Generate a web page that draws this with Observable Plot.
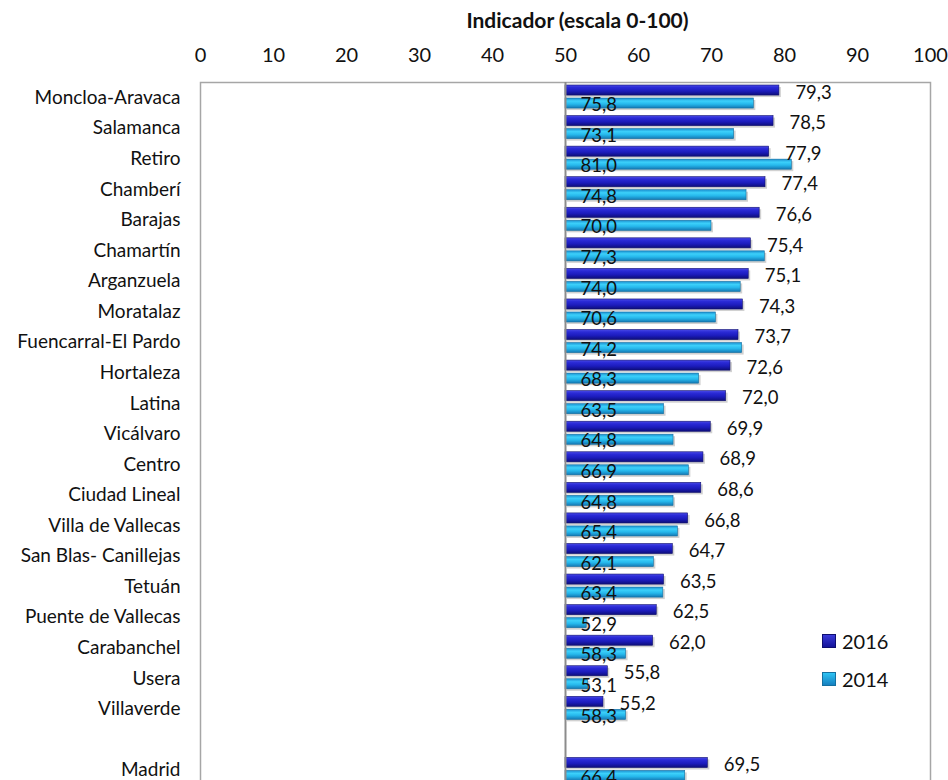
<!DOCTYPE html>
<html>
<head>
<meta charset="utf-8">
<script src="https://cdn.jsdelivr.net/npm/d3@7"></script>
<script src="https://cdn.jsdelivr.net/npm/@observablehq/plot@0.6"></script>
<style>
  html, body { margin: 0; padding: 0; background: #fff; }
  #wrap { position: relative; width: 948px; height: 780px; overflow: hidden; font-family: Lato, "Open Sans", sans-serif; }
  #legend { position: absolute; left: 822px; top: 622px; font-size: 20px; color: #111; }
  #legend .row { display: flex; align-items: center; height: 38px; }
  #legend .sw { width: 14px; height: 14px; margin-right: 6px; box-sizing: border-box; }
</style>
</head>
<body>
<div id="wrap"></div>
<script>
const districts = ["Moncloa-Aravaca","Salamanca","Retiro","Chamberí","Barajas","Chamartín","Arganzuela","Moratalaz","Fuencarral-El Pardo","Hortaleza","Latina","Vicálvaro","Centro","Ciudad Lineal","Villa de Vallecas","San Blas- Canillejas","Tetuán","Puente de Vallecas","Carabanchel","Usera","Villaverde"," ","Madrid"];
const values2016 = [79.3,78.5,77.9,77.4,76.6,75.4,75.1,74.3,73.7,72.6,72.0,69.9,68.9,68.6,66.8,64.7,63.5,62.5,62.0,55.8,55.2,null,69.5];
const values2014 = [75.8,73.1,81.0,74.8,70.0,77.3,74.0,70.6,74.2,68.3,63.5,64.8,66.9,64.8,65.4,62.1,63.4,52.9,58.3,53.1,58.3,null,66.4];
const seriesNames = ["2016","2014"];
const xTicks = [0,10,20,30,40,50,60,70,80,90,100];
const baseline = 50;
const titleText = "Indicador (escala 0-100)";

const rows = districts.map((d, i) => ({name: d, v16: values2016[i], v14: values2014[i], base: baseline}))
  .filter(d => d.v16 != null);
const fmt = v => v.toFixed(1).replace(".", ",");

const chart = Plot.plot({
  width: 948,
  height: 785,
  marginTop: 82,
  marginLeft: 200,
  marginRight: 18,
  marginBottom: 0,
  style: {fontFamily: "Lato, 'Open Sans', sans-serif", color: "#111", background: "white"},
  x: {domain: [0, 100]},
  y: {domain: districts, paddingInner: 0, paddingOuter: 0, round: false},
  marks: [
    Plot.frame({stroke: "#a6a6a6", strokeWidth: 1.5}),
    // shadows
    Plot.barX(rows, {y: "name", x1: "base", x2: "v16", insetTop: 3, insetBottom: 17.5, dx: 2, dy: 2, fill: "#000", fillOpacity: 0.18}),
    Plot.barX(rows, {y: "name", x1: "base", x2: "v14", insetTop: 16, insetBottom: 4.5, dx: 2, dy: 2, fill: "#000", fillOpacity: 0.18}),
    Plot.barX(rows, {y: "name", x1: "base", x2: "v16", insetTop: 3, insetBottom: 17.5, fill: "url(#g2016)", stroke: "#10106e", strokeWidth: 0.6}),
    Plot.barX(rows, {y: "name", x1: "base", x2: "v14", insetTop: 16, insetBottom: 4.5, fill: "url(#g2014)", stroke: "#1470a0", strokeWidth: 0.6}),
    Plot.ruleX([baseline], {stroke: "#8c8c8c", strokeWidth: 2}),
    Plot.text(rows, {y: "name", x: "v16", text: d => fmt(d.v16), textAnchor: "start", dx: 16, dy: -5, fontSize: 18.5, fill: "#111"}),
    Plot.text(rows, {y: "name", x: "base", text: d => fmt(d.v14), textAnchor: "start", dx: 15, dy: 7.5, fontSize: 18.5, fill: "#111"}),
    Plot.axisX({anchor: "top", ticks: xTicks, tickSize: 0, tickPadding: 21, fontSize: 20, label: null, tickFormat: d => String(d)}),
    Plot.axisY({tickSize: 0, tickPadding: 20, fontSize: 19, label: null}),
    Plot.text([titleText], {frameAnchor: "top", lineAnchor: "middle", dy: -61, dx: 12, text: d => d, fontSize: 21, fontWeight: "bold", fill: "#111"})
  ]
});

// gradients for the bevelled bar look
const defs = d3.select(chart).insert("defs", ":first-child");
function grad(id, stops) {
  const g = defs.append("linearGradient").attr("id", id).attr("x1", 0).attr("y1", 0).attr("x2", 0).attr("y2", 1);
  stops.forEach(([o, c]) => g.append("stop").attr("offset", o).attr("stop-color", c));
}
grad("g2016", [[0, "#4a4ae6"], [0.25, "#2a2ad6"], [0.6, "#1c1cbc"], [1, "#0e0e7a"]]);
grad("g2014", [[0, "#1b8fd0"], [0.3, "#3cd0fa"], [0.6, "#26b8ec"], [1, "#1478b4"]]);

const wrap = document.getElementById("wrap");
wrap.appendChild(chart);

const legend = document.createElement("div");
legend.id = "legend";
const legendColors = {"2016": "linear-gradient(#3a3ad8,#14149a)", "2014": "linear-gradient(#2ec4f4,#1680c0)"};
seriesNames.forEach(s => {
  const row = document.createElement("div");
  row.className = "row";
  const sw = document.createElement("span");
  sw.className = "sw";
  sw.style.background = legendColors[s];
  sw.style.border = "1px solid " + (s === "2016" ? "#0e0e70" : "#1470a0");
  const t = document.createElement("span");
  t.textContent = s;
  row.appendChild(sw);
  row.appendChild(t);
  legend.appendChild(row);
});
wrap.appendChild(legend);
</script>
</body>
</html>
